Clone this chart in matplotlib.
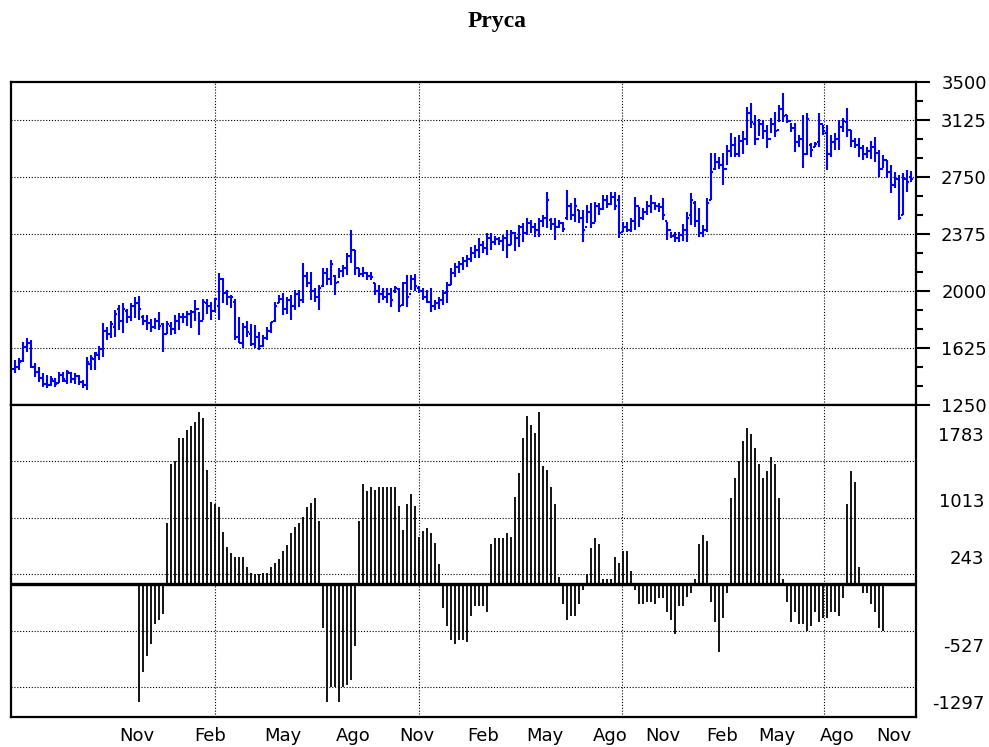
import matplotlib
matplotlib.use("Agg")
import matplotlib.pyplot as plt
import numpy as np

# ---------------- data ----------------
month_labels = ["Nov", "Feb", "May", "Ago", "Nov", "Feb", "May", "Ago",
                "Nov", "Feb", "May", "Ago", "Nov"]
month_pos = [30.6, 48.9, 67.1, 84.6, 100.6, 117.1, 132.6, 148.8,
             162.1, 176.8, 190.6, 205.6, 219.6]

price_high = [1546,1560,1664,1690,1678,1526,1500,1460,1447,1440,1430,1467,1467,1480,1467,1460,1450,1414,1566,1579,
              1599,1640,1789,1760,1800,1875,1908,1921,1881,1920,1961,1967,1842,1842,1816,1820,1862,1789,1800,1796,
              1840,1853,1853,1870,1875,1940,1864,1950,1950,1930,1954,2118,2086,2007,1974,1945,1830,1787,1800,1780,
              1776,1732,1711,1760,1798,1930,1974,1985,1960,1974,2007,2007,2182,2127,2127,2018,2040,2149,2149,2204,
              2105,2149,2170,2248,2401,2270,2149,2160,2127,2127,2050,2040,2020,2020,2018,2030,2018,2060,2105,2105,
              2115,2030,2018,2007,2018,1941,1960,2007,2062,2149,2182,2200,2226,2240,2292,2300,2346,2330,2379,2379,
              2360,2356,2368,2401,2400,2390,2434,2445,2478,2470,2445,2478,2500,2653,2478,2478,2467,2456,2664,2580,
              2610,2533,2533,2566,2577,2588,2580,2631,2631,2653,2653,2631,2456,2456,2478,2620,2555,2544,2590,2631,
              2588,2577,2610,2456,2390,2390,2390,2440,2522,2643,2590,2544,2434,2610,2906,2906,2880,2906,2960,3037,
              3015,3026,3050,3213,3235,3158,3130,3125,3092,3136,3180,3224,3300,3158,3103,3103,3026,3158,3168,2972,
              2983,3168,3092,3092,3026,3037,3125,3136,3202,3060,3004,3004,2961,2950,2990,3015,2928,2895,2862,2829,
              2785,2763,2774,2796,2790]
price_low = [1460,1480,1530,1600,1491,1434,1401,1370,1362,1375,1368,1395,1400,1388,1395,1390,1380,1362,1349,1480,
             1480,1546,1566,1680,1690,1698,1743,1724,1789,1800,1822,1810,1776,1743,1730,1750,1743,1599,1720,1710,
             1718,1743,1789,1770,1755,1800,1710,1810,1850,1810,1862,1809,1921,1908,1886,1680,1657,1623,1700,1640,
             1623,1615,1630,1680,1721,1798,1919,1842,1850,1810,1875,1897,1919,2028,1941,1930,1875,2028,2040,2040,
             1974,2084,2090,2105,2182,2105,2094,2094,2073,2073,1974,1919,1940,1920,1897,1990,1865,1900,1897,2007,
             2000,1990,1941,1919,1865,1875,1880,1908,1919,2040,2094,2120,2138,2160,2193,2215,2215,2250,2237,2270,
             2300,2300,2260,2215,2300,2260,2290,2325,2368,2380,2357,2357,2420,2412,2401,2336,2412,2390,2467,2470,
             2456,2445,2325,2445,2412,2456,2500,2533,2544,2566,2533,2346,2390,2390,2390,2401,2423,2467,2500,2511,
             2533,2522,2467,2335,2346,2320,2325,2330,2325,2434,2420,2357,2357,2390,2599,2796,2800,2697,2830,2884,
             2884,2884,2900,2961,3070,2961,3020,3000,2940,3037,3015,3114,3114,3103,3048,2917,2950,2807,2895,2884,
             2950,2950,3026,2796,2884,2928,2928,3048,3015,2950,2939,2884,2862,2873,2870,2850,2752,2807,2741,2643,
             2675,2467,2500,2654,2720]
price_open = [1490,1500,1540,1630,1660,1500,1470,1430,1390,1380,1410,1395,1450,1410,1460,1420,1440,1400,1380,1520,
              1550,1580,1620,1740,1720,1760,1880,1800,1870,1830,1900,1920,1830,1800,1790,1760,1800,1780,1720,1770,
              1750,1800,1830,1830,1850,1860,1880,1800,1920,1900,1870,1900,2080,1990,1960,1930,1700,1660,1760,1720,
              1650,1700,1640,1690,1740,1800,1920,1950,1880,1940,1900,1980,1940,2100,2050,2000,1960,2030,2120,2080,
              2100,2060,2130,2150,2230,2270,2150,2110,2120,2100,2050,2000,1980,1960,1980,2000,2010,1910,2050,1980,
              2080,2020,2000,1960,1930,1900,1920,1940,1990,2040,2120,2160,2180,2200,2210,2250,2270,2300,2280,2350,
              2320,2340,2330,2350,2300,2380,2350,2420,2380,2450,2420,2400,2460,2480,2470,2440,2420,2450,2480,2560,
              2500,2530,2480,2420,2520,2450,2560,2540,2600,2570,2620,2600,2390,2420,2400,2460,2560,2480,2520,2560,
              2580,2560,2550,2460,2400,2360,2350,2370,2400,2500,2580,2460,2380,2400,2600,2800,2850,2830,2800,2920,
              2960,2900,2990,3000,3170,3100,3000,3100,3050,3000,3100,3060,3200,3160,3120,3070,2980,3000,2900,2960,
              2950,2980,3100,3040,2900,2980,3000,3080,3110,3060,2990,2960,2940,2900,2920,2950,2910,2800,2860,2780,
              2700,2740,2500,2740,2750]
price_close = [1500,1535,1630,1660,1500,1470,1430,1390,1380,1420,1390,1450,1420,1470,1420,1440,1400,1380,1530,1560,
               1590,1620,1740,1720,1780,1850,1800,1880,1830,1900,1920,1880,1800,1790,1760,1800,1770,1720,1780,1750,
               1800,1830,1830,1850,1860,1880,1800,1930,1900,1870,1950,2080,1990,1960,1960,1700,1660,1760,1730,1650,
               1700,1640,1690,1740,1798,1900,1950,1880,1940,1900,1980,1940,2100,2050,2000,1960,2020,2120,2080,2180,
               2050,2130,2150,2230,2270,2150,2110,2120,2100,2090,2000,1980,1960,1980,1940,2020,1900,2050,1960,2080,
               2030,2000,1960,1930,1900,1920,1940,1990,2040,2120,2160,2180,2200,2210,2250,2270,2300,2280,2350,2320,
               2340,2330,2350,2300,2380,2350,2420,2380,2450,2420,2400,2460,2480,2600,2440,2420,2450,2410,2560,2500,
               2560,2480,2400,2520,2450,2560,2540,2600,2570,2620,2560,2380,2420,2400,2460,2560,2480,2520,2560,2580,
               2560,2550,2500,2400,2360,2350,2370,2400,2480,2600,2460,2380,2400,2580,2780,2850,2830,2800,2920,2960,
               2900,2990,3000,3170,3110,3000,3100,3050,3000,3100,3050,3200,3150,3120,3070,2980,3000,2900,3130,2930,
               2970,3100,3050,2900,2980,3000,3080,3120,3060,2990,2960,2940,2900,2920,2950,2910,2800,2860,2780,2700,
               2740,2480,2740,2720,2740]

osc_start = 31
osc_values = [-1491,-1083,-870,-706,-434,-380,-298,
              945,1739,1784,2092,2092,2206,2260,2315,2446,2365,1661,1221,1194,1162,813,618,537,482,482,482,
              346,264,242,242,264,264,346,400,455,564,645,809,890,945,1026,1162,1208,1276,972,
              -493,-1491,-1296,-1296,-1491,-1296,-1264,-1196,-734,
              972,1466,1380,1435,1389,1435,1435,1435,1435,1435,1172,845,1194,1330,1172,754,836,868,809,673,378,
              -221,-461,-652,-706,-652,-652,-684,-325,-189,-189,-189,-266,
              650,732,732,732,809,754,1299,1625,2092,2396,2274,2160,2446,1716,1661,1435,1194,210,
              -157,-380,-325,-325,-162,28,
              242,595,732,650,178,178,178,482,400,564,564,292,
              28,-162,-162,-135,-135,-162,-85,-85,-271,-380,-575,-189,-189,-62,-8,
              178,650,781,700,
              -135,-407,-820,-353,-8,
              1276,1548,1788,2061,2228,2147,1956,1739,1548,1652,1843,1739,1276,178,
              -135,-407,-271,-434,-434,-529,-461,-271,-407,-353,-353,-271,-271,-325,-85,
              1194,1652,1494,346,
              -8,-8,-162,-271,-489,-529]
osc_base = 114

price_grid = [1625, 2000, 2375, 2750, 3125]
price_tick_pos = [1250, 1625, 2000, 2375, 2750, 3125, 3375]
price_tick_lab = ["1250", "1625", "2000", "2375", "2750", "3125", "3500"]
osc_grid = [1783, 1013, 243, -527, -1297]
osc_label_pos = [2158, 1253, 478, -720, -1496]
osc_labels = ["1783", "1013", "243", "-527", "-1297"]
vgrid_pos = [50.06, 101.0, 151.8, 202.3]

# ---------------- figure ----------------
W, H = 989, 747
fig = plt.figure(figsize=(W / 100, H / 100), dpi=100)
plt.rcParams["font.family"] = ["DejaVu Sans"]


def px_axes(x0, y0, x1, y1):
    return fig.add_axes([x0 / W, 1 - y1 / H, (x1 - x0) / W, (y1 - y0) / H])


ax1 = px_axes(11, 82, 916, 405)
ax2 = px_axes(11, 405, 916, 717)
xlim = (-0.917, 225.25)

n = len(price_close)
idx = np.arange(n)
blue = "#0000ff"
ax1.vlines(idx, price_low, price_high, color=blue, lw=1.5, zorder=3)
ax1.hlines(price_open, idx - 0.55, idx, color=blue, lw=1.5, zorder=3)
ax1.hlines(price_close, idx, idx + 0.55, color=blue, lw=1.5, zorder=3)
ax1.set_xlim(*xlim)
ax1.set_ylim(1250, 3375)

oidx = np.arange(osc_start, osc_start + len(osc_values))
ax2.vlines(oidx, osc_base, osc_values, color="black", lw=1.3, zorder=3)
ax2.axhline(osc_base, color="black", lw=2.4, zorder=4)
ax2.set_xlim(*xlim)
ax2.set_ylim(-1700, 2546)

dot = dict(color="black", lw=0.8, ls=(0, (1, 1.6)))
for ax in (ax1, ax2):
    for s in ax.spines.values():
        s.set_linewidth(1.6)
        s.set_color("black")
    ax.set_xticks(vgrid_pos, minor=True)
    ax.grid(which="minor", axis="x", **dot)
    ax.tick_params(axis="x", which="both", length=0)
    ax.yaxis.tick_right()

# top panel y axis
ax1.set_xticks([])
ax1.set_yticks(price_tick_pos)
ax1.set_yticklabels(price_tick_lab)
ax1.set_yticks(np.arange(1375, 3375, 125), minor=True)
for gy in price_grid:
    ax1.axhline(gy, zorder=1, **dot)
ax1.tick_params(axis="y", which="major", length=10, width=1.5, pad=41, labelsize=13)
ax1.tick_params(axis="y", which="minor", length=5, width=1.5)
for t in ax1.get_yticklabels():
    t.set_ha("right")

# bottom panel y axis
ax2.set_yticks(osc_label_pos)
ax2.set_yticklabels(osc_labels)
for gy in osc_grid:
    ax2.axhline(gy, zorder=1, **dot)
ax2.tick_params(axis="y", which="both", length=0, pad=49, labelsize=13)
for t in ax2.get_yticklabels():
    t.set_ha("right")
ax2.set_xticks(month_pos)
ax2.set_xticklabels(month_labels)
ax2.tick_params(axis="x", which="major", length=0, pad=7, labelsize=13)

fig.text(497 / W, 1 - 22 / H, "Pryca", ha="center", va="center",
         fontsize=17, fontweight="bold", family="Liberation Serif")

fig.savefig("out.png", dpi=100)
